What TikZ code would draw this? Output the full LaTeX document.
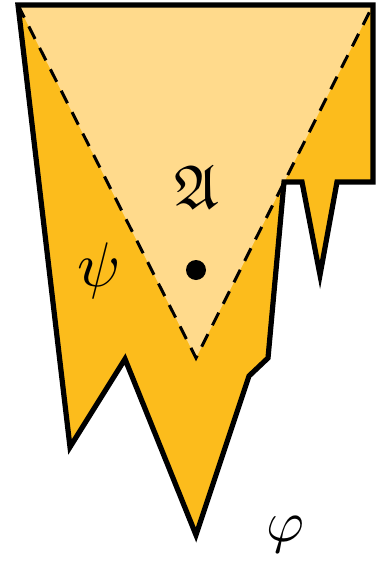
\documentclass[tikz,border=0pt]{standalone}
\usepackage{amssymb}
\definecolor{lightgold}{RGB}{255,218,140}
\definecolor{darkgold}{RGB}{252,188,28}
\begin{document}
\begin{tikzpicture}[x=0.5pt,y=-0.5pt,
  outline/.style={draw=black,line width=2.6pt,line join=miter},
  dashedge/.style={draw=black,line width=1.5pt,dash pattern=on 7pt off 5pt},
  lbl/.style={inner sep=0pt}]
\useasboundingbox (0,0) rectangle (383,562);
\coordinate (tl) at (18,5);
\coordinate (tr) at (373,5);
\coordinate (bt) at (196,358);
\fill[darkgold] (18,5) -- (373,5) -- (373,182) -- (337,182) -- (320,275) -- (302,182) -- (284,182) -- (268,358) -- (249,376) -- (196,535) -- (125,359) -- (70,447) -- cycle;
\fill[lightgold] (tl) -- (tr) -- (bt) -- cycle;
\draw[dashedge] (tl) -- (bt) -- (tr);
\draw[outline] (18,5) -- (373,5) -- (373,182) -- (337,182) -- (320,275) -- (302,182) -- (284,182) -- (268,358) -- (249,376) -- (196,535) -- (125,359) -- (70,447) -- cycle;
\node[lbl] (A) at (197,187) {\scalebox{3.1}{$\mathfrak{A}$}};
\fill (196,270) circle[radius=5pt];
\node[lbl] (psi) at (99,271) {\scalebox{3.15}{$\psi$}};
\node[lbl] (phi) at (285,535) {\scalebox{2.9}{$\varphi$}};
\end{tikzpicture}
\end{document}
